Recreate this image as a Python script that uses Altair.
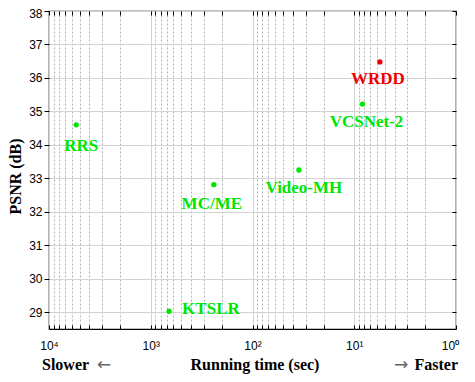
import altair as alt
import pandas as pd

# ---- data ----
methods = ["RRS", "KTSLR", "MC/ME", "Video-MH", "VCSNet-2", "WRDD"]
run_time = [5400, 660, 240, 35, 8.3, 5.6]          # seconds
psnr = [34.6, 29.03, 32.81, 33.25, 35.22, 36.48]     # dB
colors = ["#00e600", "#00e600", "#00e600", "#00e600", "#00e600", "#ee0000"]

major_ticks = [1, 10, 100, 1000, 10000]
major_labels = ["10\u2070", "10\u00b9", "10\u00b2", "10\u00b3", "10\u2074"]
y_ticks = [29, 30, 31, 32, 33, 34, 35, 36, 37, 38]

# label placement (style, pixels): dx, dy, align
label_style = {
    "RRS": (5, 21, "center"),
    "KTSLR": (13, -2, "left"),
    "MC/ME": (-2, 19, "center"),
    "Video-MH": (5, 17.5, "center"),
    "VCSNet-2": (4, 18, "center"),
    "WRDD": (-2, 17, "center"),
}

df = pd.DataFrame({"method": methods, "time": run_time, "psnr": psnr, "color": colors})

all_x_ticks = [m * 10 ** k for k in range(4) for m in range(1, 10)] + [10000]
major_list = "[" + ",".join(str(v) for v in major_ticks) + "]"
minor_test = f"indexof({major_list}, datum.value) < 0"
label_expr = " : ".join(
    f"datum.value == {v} ? '{lab}'" for v, lab in zip(major_ticks, major_labels)
) + " : ''"

W, H = 407, 318
SERIF = "Liberation Serif"
SANS = "Liberation Sans"

xscale = alt.Scale(type="log", domain=[1, 10000], reverse=True, nice=False)
yscale = alt.Scale(domain=[28.5, 38], nice=False, zero=False)

base = alt.Chart(df)

points = base.mark_circle(size=28, opacity=1).encode(
    x=alt.X("time:Q", scale=xscale, axis=alt.Axis(
        orient="bottom", values=all_x_ticks, labelExpr=label_expr,
        grid=True, ticks=False, tickSize=0, domain=False,
        gridDash={"condition": {"test": minor_test, "value": [2, 2]}, "value": []},
        gridColor={"condition": {"test": minor_test, "value": "#b0b0b0"}, "value": "#d2d2d2"},
        labelFont=SANS, labelFontSize=12, labelColor="black", labelPadding=11,
        labelFlush=False, labelOverlap=False, labelBound=False,
        labelOffset={"condition": {"test": "datum.value == 1", "value": -6}, "value": 0},
        title="Running time (sec)", titleFont=SERIF, titleFontSize=16,
        titleFontWeight="bold", titleColor="black", titleY=40,
        titleBaseline="alphabetic", titleX=W / 2 + 2)),
    y=alt.Y("psnr:Q", scale=yscale, axis=alt.Axis(
        orient="left", values=y_ticks, grid=True, gridColor="#d2d2d2",
        ticks=True, tickSize=5, tickColor="black", domain=False,
        labelFont=SANS, labelFontSize=12, labelColor="black", labelPadding=2,
        labelOffset={"condition": {"test": "datum.value == 38", "value": 2}, "value": 0},
        title="PSNR (dB)", titleFont=SERIF, titleFontSize=16, titleFontWeight="bold",
        titleColor="black", titleX=-34, titleY=165, titleAngle=270,
        titleAlign="center", titleBaseline="middle")),
    color=alt.Color("color:N", scale=None),
)

# inward ticks on top and right edges
tick_top_right = base.mark_circle(opacity=0).encode(
    x=alt.X("time:Q", scale=xscale, axis=alt.Axis(
        orient="top", values=all_x_ticks, labels=False, grid=False, domain=False,
        ticks=True, tickSize=4, tickColor="black", offset=-4, title=None)),
    y=alt.Y("psnr:Q", scale=yscale, axis=alt.Axis(
        orient="right", values=y_ticks, labels=False, grid=False, domain=False,
        ticks=True, tickSize=4, tickColor="black", offset=-4, title=None)),
)

# inward ticks on bottom edge
tick_bottom = base.mark_circle(opacity=0).encode(
    x=alt.X("time:Q", scale=xscale, axis=alt.Axis(
        orient="bottom", values=all_x_ticks, labels=False, grid=False, domain=False,
        ticks=True, tickSize=4, tickColor="black", offset=-4, title=None)),
    y=alt.Y("psnr:Q", scale=yscale, axis=None),
)

label_layers = []
for name in methods:
    dx, dy, align = label_style[name]
    label_layers.append(
        base.transform_filter(alt.datum.method == name).mark_text(
            font=SERIF, fontSize=17, fontWeight="bold", dx=dx, dy=dy,
            align=align, baseline="middle",
        ).encode(
            x=alt.X("time:Q", scale=xscale, axis=None),
            y=alt.Y("psnr:Q", scale=yscale, axis=None),
            text="method:N",
            color=alt.Color("color:N", scale=None),
        )
    )

def note(txt, x, align, weight, color, size, font):
    return alt.Chart(pd.DataFrame({"t": [txt]})).mark_text(
        font=font, fontSize=size, fontWeight=weight, align=align,
        baseline="alphabetic", color=color,
    ).encode(text="t:N", x=alt.value(x), y=alt.value(H + 41))

notes = [
    note("Slower", -7, "left", "bold", "black", 16, SERIF),
    note("\u2190", 55, "center", "normal", "#666666", 17, "DejaVu Sans"),
    note("\u2192", 352, "center", "normal", "#666666", 17, "DejaVu Sans"),
    note("Faster", W + 2, "right", "bold", "black", 16, SERIF),
]

chart = alt.layer(points, tick_top_right, tick_bottom, *label_layers, *notes).resolve_axis(
    x="independent", y="independent"
).properties(
    width=W, height=H,
    padding={"left": 41, "top": 3, "right": 11, "bottom": 45},
    autosize=alt.AutoSizeParams(type="none"),
).configure_view(stroke="black", strokeWidth=1.2)

chart.save("out.html", embed_options={"renderer": "svg", "actions": False})
